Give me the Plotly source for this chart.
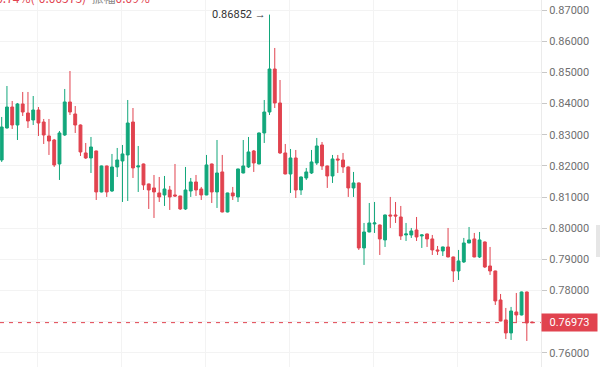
import plotly.graph_objects as go

# OHLC values (oldest -> newest)
opens = [0.82190, 0.83216, 0.83889, 0.83312, 0.83986, 0.83697, 0.83473, 0.83793, 0.83408, 0.82960,
         0.82831, 0.82062, 0.82992, 0.84050, 0.83665, 0.83312, 0.82415, 0.82254, 0.82479, 0.81164,
         0.81998, 0.81196, 0.81966, 0.82158, 0.82351, 0.83408, 0.81966, 0.82062, 0.81421, 0.81293,
         0.81132, 0.81068, 0.81228, 0.81068, 0.81036, 0.80619, 0.81196, 0.81485, 0.81260, 0.81068,
         0.82062, 0.81164, 0.81806, 0.80522, 0.81132, 0.81004, 0.81773, 0.81966, 0.82479, 0.82062,
         0.83056, 0.83729, 0.85108, 0.84018, 0.82415, 0.81741, 0.82254, 0.81228, 0.81613, 0.81773,
         0.82094, 0.82671, 0.81998, 0.81677, 0.82222, 0.82190, 0.81966, 0.81293, 0.81453, 0.79368,
         0.79881, 0.80138, 0.80105, 0.79625, 0.80426, 0.80426, 0.80362, 0.79785, 0.79785, 0.79945,
         0.79753, 0.79817, 0.79657, 0.79304, 0.79272, 0.79400, 0.79079, 0.78630, 0.78919, 0.79528,
         0.79657, 0.79079, 0.79560, 0.78790, 0.78630, 0.77700, 0.77059, 0.76642, 0.77315, 0.77219,
         0.77956, 0.76990]
highs = [0.83569, 0.84563, 0.84082, 0.84018, 0.84371, 0.84371, 0.84242, 0.83889, 0.83505, 0.83505,
         0.82864, 0.83120, 0.84467, 0.85044, 0.83921, 0.83330, 0.82735, 0.82928, 0.82490, 0.82010,
         0.82010, 0.82383, 0.82575, 0.82671, 0.84114, 0.83857, 0.82639, 0.82075, 0.81430, 0.81709,
         0.81645, 0.81677, 0.81357, 0.82062, 0.81040, 0.81966, 0.81613, 0.81709, 0.81325, 0.82351,
         0.82075, 0.82831, 0.82351, 0.81140, 0.81325, 0.81910, 0.82831, 0.82928, 0.82511, 0.83070,
         0.84114, 0.86852, 0.85782, 0.84755, 0.82703, 0.82543, 0.82511, 0.81660, 0.81934, 0.82511,
         0.82896, 0.82767, 0.82010, 0.82351, 0.82351, 0.82415, 0.81980, 0.81806, 0.81465, 0.80170,
         0.80811, 0.80843, 0.80120, 0.80440, 0.81004, 0.80843, 0.80715, 0.80170, 0.80009, 0.80362,
         0.79800, 0.79830, 0.79785, 0.79432, 0.79410, 0.80009, 0.79090, 0.79304, 0.79689, 0.80041,
         0.79849, 0.79881, 0.79575, 0.79400, 0.78640, 0.77892, 0.77444, 0.77476, 0.77924, 0.77970,
         0.77970, 0.77010]
lows = [0.82126, 0.83200, 0.83184, 0.82831, 0.83601, 0.83216, 0.83312, 0.82960, 0.82703, 0.82351,
        0.81966, 0.81549, 0.82960, 0.83633, 0.83056, 0.82318, 0.82222, 0.81773, 0.80907, 0.81150,
        0.81004, 0.81164, 0.81645, 0.80843, 0.80875, 0.81613, 0.81164, 0.81228, 0.80619, 0.80330,
        0.80843, 0.80715, 0.80587, 0.81004, 0.80587, 0.80587, 0.81004, 0.81036, 0.80907, 0.81060,
        0.80811, 0.80651, 0.80510, 0.80510, 0.80907, 0.80843, 0.81760, 0.81934, 0.81806, 0.82050,
        0.82735, 0.83633, 0.83857, 0.82383, 0.81730, 0.81132, 0.80972, 0.81068, 0.81549, 0.81741,
        0.82030, 0.81870, 0.81293, 0.81453, 0.81773, 0.81773, 0.81004, 0.81004, 0.79304, 0.78823,
        0.79870, 0.79849, 0.79143, 0.79400, 0.80009, 0.80170, 0.79625, 0.79592, 0.79689, 0.79592,
        0.79368, 0.79400, 0.79143, 0.79143, 0.79111, 0.79070, 0.78277, 0.78341, 0.78887, 0.79520,
        0.79070, 0.79047, 0.78726, 0.78502, 0.77540, 0.77015, 0.76449, 0.76417, 0.76995, 0.77205,
        0.76385, 0.76960]
closes = [0.83248, 0.83889, 0.83312, 0.83986, 0.83729, 0.83441, 0.83793, 0.83376, 0.82992, 0.82799,
          0.82030, 0.83056, 0.84050, 0.83729, 0.83312, 0.82447, 0.82254, 0.82607, 0.81164, 0.81998,
          0.81164, 0.81966, 0.82190, 0.82383, 0.83376, 0.81934, 0.81998, 0.81389, 0.81228, 0.81164,
          0.81004, 0.81260, 0.81004, 0.81036, 0.80619, 0.81228, 0.81485, 0.81228, 0.81068, 0.82030,
          0.81164, 0.81773, 0.80522, 0.81132, 0.81036, 0.81902, 0.81998, 0.82447, 0.82094, 0.83056,
          0.83729, 0.85108, 0.84018, 0.82415, 0.81741, 0.82254, 0.81228, 0.81645, 0.81806, 0.82126,
          0.82639, 0.81998, 0.81677, 0.82222, 0.82190, 0.81966, 0.81293, 0.81453, 0.79368, 0.79881,
          0.80170, 0.80170, 0.79657, 0.80426, 0.80394, 0.80394, 0.79753, 0.79817, 0.79913, 0.79721,
          0.79785, 0.79657, 0.79304, 0.79272, 0.79400, 0.79079, 0.78630, 0.78951, 0.79528, 0.79625,
          0.79079, 0.79625, 0.78758, 0.78630, 0.77668, 0.77027, 0.76642, 0.77347, 0.77219, 0.77956,
          0.76963, 0.76973]

last_price = 0.76973
high_label = "0.86852"
header_change = "-0.74%(-0.00573)"
header_amp_label = "振幅"
header_amp = "0.09%"

y_ticks = [0.76, 0.77, 0.78, 0.79, 0.80, 0.81, 0.82, 0.83, 0.84, 0.85, 0.86, 0.87]
x_grid = [6.9, 22.9, 38.9, 54.9, 70.8, 86.8]

GREEN = "#12a77b"
RED = "#e1434f"

idx = list(range(len(opens)))

fig = go.Figure()
fig.add_trace(go.Candlestick(
    x=idx, open=opens, high=highs, low=lows, close=closes,
    increasing=dict(line=dict(color=GREEN, width=1), fillcolor=GREEN),
    decreasing=dict(line=dict(color=RED, width=1), fillcolor=RED),
    whiskerwidth=0, hoverinfo="skip", showlegend=False,
))

# index of highest high
hi_i = max(idx, key=lambda i: highs[i])

fig.update_layout(
    width=600, height=367,
    margin=dict(l=0, r=59, t=0, b=0),
    paper_bgcolor="white", plot_bgcolor="white",
    boxgap=0.22,
    xaxis=dict(
        range=[-0.324, 102.7], rangeslider=dict(visible=False),
        tickvals=x_grid, showticklabels=False, ticks="",
        showgrid=True, gridcolor="#f3f3f3", gridwidth=1, zeroline=False,
        showline=False,
    ),
    yaxis=dict(
        side="right", range=[0.75550, 0.87321],
        tickvals=y_ticks, tickformat=".5f",
        showgrid=True, gridcolor="#f3f3f3", gridwidth=1, zeroline=False,
        ticks="outside", ticklen=5, tickcolor="#c8c8c8", tickwidth=1,
        showline=True, linecolor="#ebebeb", linewidth=1,
        tickfont=dict(family="Roboto, Arial, sans-serif", size=11, color="#6f6f6f"),
    ),
    font=dict(family="Roboto, Arial, sans-serif"),
)

# last price dashed line
fig.add_shape(type="line", xref="paper", x0=0, x1=1, yref="y", y0=last_price, y1=last_price,
              line=dict(color=RED, width=1, dash="4px,5px"), layer="above")

# last price label
fig.add_annotation(xref="paper", x=1, yref="y", y=last_price, xanchor="left", yanchor="middle",
                   text=f"{last_price:.5f}", showarrow=False, bgcolor=RED, width=53, height=15,
                   borderpad=1, align="center",
                   font=dict(family="Roboto, Arial, sans-serif", size=11, color="white"))

# high annotation
fig.add_annotation(x=hi_i, y=highs[hi_i], xref="x", yref="y", xanchor="right", yanchor="middle",
                   xshift=-2, text=f"{high_label} →", showarrow=False,
                   font=dict(family="Roboto, Arial, sans-serif", size=11, color="#333333"))

# header text (clipped at the top edge, as in the reference)
fig.add_annotation(xref="paper", x=0, yref="paper", y=1, xanchor="left", yanchor="bottom",
                   xshift=-10, yshift=-8, showarrow=False,
                   text=(f"<span style='color:{RED}'>{header_change}</span>  "
                         f"<span style='color:#8a8a8a'>{header_amp_label}</span>"
                         f"<span style='color:{RED}'>{header_amp}</span>"),
                   font=dict(family="Noto Sans CJK SC, Roboto, sans-serif", size=12))

# right edge handle
fig.add_shape(type="rect", xref="paper", yref="paper", x0=596 / 541, x1=600 / 541,
              y0=1 - 257 / 367, y1=1 - 225 / 367, fillcolor="#e6e6e6", line=dict(width=0))

fig.write_html("out.html", config={"displayModeBar": False},
               post_script="document.body.style.margin='0';document.body.style.overflow='hidden';")
